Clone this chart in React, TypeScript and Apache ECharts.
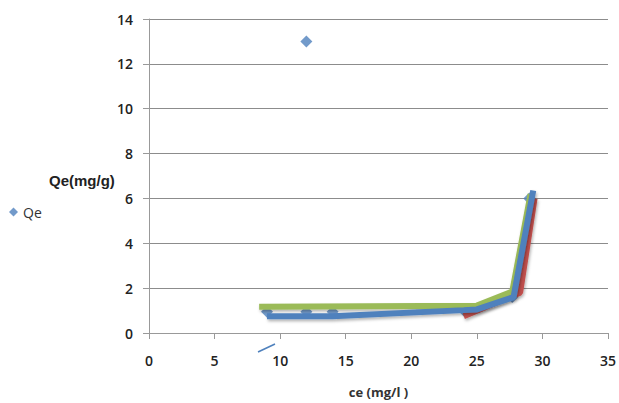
import React, { useEffect, useRef } from "react";
import * as echarts from "echarts";

const qeCe = [9, 12, 14, 24, 27.7, 29, 12];
const qeVals = [0.95, 0.95, 0.95, 1.0, 1.6, 6, 13];

const greenCe = [8.4, 25, 27.7, 29.1];
const greenVals = [1.17, 1.22, 1.85, 6.2];

const redCe = [24, 28.3, 29.4];
const redVals = [0.75, 1.8, 6.0];

const blueCe = [9, 14, 24, 25, 27.8, 29.3];
const blueVals = [0.75, 0.75, 1.02, 1.05, 1.6, 6.35];

const xTicks = [0, 5, 10, 15, 20, 25, 30, 35];
const yTicks = [0, 2, 4, 6, 8, 10, 12, 14];

const pairs = (xs: number[], ys: number[]) => xs.map((x, i) => [x, ys[i]]);

export default function App() {
  const ref = useRef<HTMLDivElement>(null);
  useEffect(() => {
    if (!ref.current) return;
    const chart = echarts.init(ref.current, null, { renderer: "svg" });
    const lineStyle = (color: string) => ({
      color,
      width: 6,
      shadowBlur: 3,
      shadowOffsetX: 1,
      shadowOffsetY: 2,
      shadowColor: "rgba(0,0,0,0.3)",
    });
    const labelFont = { fontFamily: "Open Sans", fontSize: 14, fontWeight: 600, color: "#222" };
    chart.setOption({
      animation: false,
      backgroundColor: "#ffffff",
      grid: { left: 149, right: 8, top: 19, bottom: 69 },
      legend: {
        data: ["Qe"],
        left: 9,
        top: 205,
        padding: 0,
        icon: "diamond",
        itemWidth: 9,
        itemHeight: 9,
        itemGap: 2,
        textStyle: { fontFamily: "Open Sans", fontSize: 14, color: "#333" },
      },
      xAxis: {
        type: "value",
        min: xTicks[0],
        max: xTicks[xTicks.length - 1],
        interval: 5,
        name: "ce (mg/l )",
        nameLocation: "middle",
        nameGap: 52,
        nameTextStyle: { fontFamily: "Open Sans", fontSize: 13, fontWeight: "bold", color: "#333" },
        axisLine: { show: true, onZero: false, lineStyle: { color: "#999", width: 1 } },
        axisTick: { show: true, length: 6, lineStyle: { color: "#999" } },
        axisLabel: { ...labelFont, margin: 20 },
        splitLine: { show: false },
      },
      yAxis: {
        type: "value",
        min: yTicks[0],
        max: yTicks[yTicks.length - 1],
        interval: 2,
        axisLine: { show: true, lineStyle: { color: "#999", width: 1 } },
        axisTick: { show: true, length: 6, lineStyle: { color: "#999" } },
        axisLabel: { ...labelFont, margin: 16 },
        splitLine: { show: true, lineStyle: { color: "#8c8c8c", width: 1 } },
      },
      graphic: [
        {
          type: "text",
          left: 49,
          top: 173,
          style: {
            text: "Qe(mg/g)",
            font: "bold 15px 'Liberation Sans', Arial, sans-serif",
            fill: "#222",
          },
        },
        {
          type: "line",
          shape: { x1: 258, y1: 352, x2: 275, y2: 344 },
          style: { stroke: "#4F81BD", lineWidth: 1.5 },
        },
      ],
      series: [
        {
          name: "Qe",
          type: "scatter",
          data: pairs(qeCe, qeVals),
          symbol: "diamond",
          symbolSize: 12,
          itemStyle: { color: "#4F81BD" },
          z: 1,
        },
        {
          name: "red",
          type: "line",
          data: pairs(redCe, redVals),
          symbol: "none",
          lineStyle: lineStyle("#C0504D"),
          z: 2,
        },
        {
          name: "green",
          type: "line",
          data: pairs(greenCe, greenVals),
          symbol: "none",
          lineStyle: lineStyle("#9BBB59"),
          z: 3,
        },
        {
          name: "blue",
          type: "line",
          data: pairs(blueCe, blueVals),
          symbol: "none",
          lineStyle: lineStyle("#4F81BD"),
          z: 4,
        },
      ],
    });
    return () => chart.dispose();
  }, []);
  return (
    <div
      ref={ref}
      style={{ position: "fixed", left: 0, top: 0, width: 619, height: 403 }}
    />
  );
}
